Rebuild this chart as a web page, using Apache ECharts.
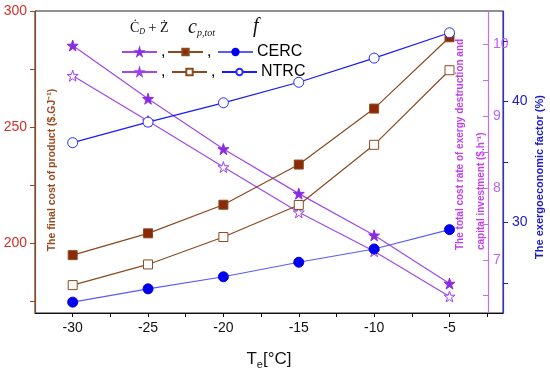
<!DOCTYPE html>
<html>
<head>
<meta charset="utf-8">
<script src="https://cdn.jsdelivr.net/npm/echarts@6/dist/echarts.min.js"></script>
<style>html,body{margin:0;padding:0;background:#fff}#c{width:550px;height:375px}</style>
</head>
<body>
<div id="c"></div>
<script>
// ---- data ----
const te = [-30, -25, -20, -15, -10, -5];
const cdzCERC = [9.98, 9.24, 8.54, 7.92, 7.34, 6.67];
const cdzNTRC = [9.56, 8.93, 8.29, 7.66, 7.12, 6.49];
const cpCERC = [194.9, 204.3, 216.6, 233.9, 258.0, 288.7];
const cpNTRC = [182.0, 190.9, 202.7, 216.5, 242.4, 274.5];
const fCERC = [23.4, 24.5, 25.5, 26.7, 27.8, 29.4];
const fNTRC = [36.6, 38.3, 39.9, 41.6, 43.6, 45.7];
const xLabels = [-30, -25, -20, -15, -10, -5];
const xTicks = [-30, -27.5, -25, -22.5, -20, -17.5, -15, -12.5, -10, -7.5, -5, -2.5];
const leftLabels = [200, 250, 300];
const leftTicks = [175, 200, 225, 250, 275, 300];
const magLabels = [7, 8, 9, 10];
const magTicks = [6.5, 7, 7.5, 8, 8.5, 9, 9.5, 10];
const blueLabels = [30, 40];
const blueTicks = [25, 30, 35, 40, 45];

const pair = arr => te.map((x, i) => [x, arr[i]]);
const STAR = 'path://M50,0 L61,35 L98,35 L68,57 L79,91 L50,70 L21,91 L32,57 L2,35 L39,35 Z';
const PURPLE = '#a048e8', BROWN = '#8b4a1e', BLUE = '#1a1aff';

const chart = echarts.init(document.getElementById('c'), null, {renderer: 'canvas'});

function legend(name, left, top, text) {
  return {
    data: [name], left: left, top: top, padding: 0, itemWidth: 35, itemHeight: 8,
    selectedMode: false,
    formatter: () => text,
    textStyle: {fontFamily: 'Liberation Sans', fontSize: 16, color: '#000', padding: [0, 0, 0, -1]}
  };
}

const option = {
  animation: false,
  backgroundColor: '#fff',
  grid: {left: 35, right: 47, top: 11, bottom: 58, show: true, borderColor: '#222', borderWidth: 1, backgroundColor: 'transparent'},
  xAxis: {
    type: 'value', min: -32.5, max: -1.45,
    axisLine: {lineStyle: {color: '#111', width: 1}},
    axisTick: {show: true, length: 4, inside: false, customValues: xTicks, lineStyle: {color: '#111'}},
    axisLabel: {customValues: xLabels, margin: 8, fontFamily: 'Liberation Sans', fontSize: 14, color: '#111'},
    splitLine: {show: false},
    name: 'T{s|e}[°C]', nameLocation: 'middle', nameGap: 36,
    nameTextStyle: {fontFamily: 'Liberation Sans', fontSize: 17, color: '#111',
      rich: {s: {fontFamily: 'Liberation Sans', fontSize: 11, verticalAlign: 'bottom', padding: [10, 0, 0, 0], color: '#111'}}}
  },
  yAxis: [
    {
      type: 'value', position: 'left', min: 170, max: 300,
      axisLine: {show: true, lineStyle: {color: BROWN, width: 1.2}},
      axisTick: {show: true, length: 5, customValues: leftTicks, lineStyle: {color: BROWN}},
      axisLabel: {customValues: leftLabels, margin: 8, fontFamily: 'Liberation Sans', fontSize: 14, color: '#d0302a'},
      splitLine: {show: false}
    },
    {
      type: 'value', position: 'right', offset: -15, min: 6.26, max: 10.46,
      axisLine: {show: true, onZero: false, lineStyle: {color: '#c070f0', width: 1.2}},
      axisTick: {show: true, inside: true, length: 5, customValues: magTicks, lineStyle: {color: '#c070f0'}},
      axisLabel: {customValues: magLabels, margin: 5, fontFamily: 'Liberation Sans', fontSize: 14, color: '#c060f0'},
      splitLine: {show: false}
    },
    {
      type: 'value', position: 'right', offset: 0, min: 22.5, max: 47.5,
      axisLine: {show: true, onZero: false, lineStyle: {color: '#3030e0', width: 1.2}},
      axisTick: {show: true, length: 5, customValues: blueTicks, lineStyle: {color: '#2020c0'}},
      axisLabel: {customValues: blueLabels, margin: 9, fontFamily: 'Liberation Sans', fontSize: 14, color: '#2020c0'},
      splitLine: {show: false}
    }
  ],
  legend: [
    legend('CERC cdz', 121, 44, ','),
    legend('CERC cp', 167, 44, ','),
    legend('CERC f', 217, 44, 'CERC'),
    legend('NTRC cdz', 121, 64, ','),
    legend('NTRC cp', 171, 64, ','),
    legend('NTRC f', 221, 64, 'NTRC')
  ],
  series: [
    {name: 'CERC cdz', type: 'line', yAxisIndex: 1, data: pair(cdzCERC), symbol: STAR, symbolSize: 11,
      lineStyle: {color: PURPLE, width: 1.2}, itemStyle: {color: '#8a2be2', borderColor: '#8a2be2', borderWidth: 1}},
    {name: 'NTRC cdz', type: 'line', yAxisIndex: 1, data: pair(cdzNTRC), symbol: STAR, symbolSize: 11,
      lineStyle: {color: PURPLE, width: 1.2}, itemStyle: {color: '#fff', borderColor: '#9a40ee', borderWidth: 1}},
    {name: 'CERC cp', type: 'line', yAxisIndex: 0, data: pair(cpCERC), symbol: 'rect', symbolSize: 9,
      lineStyle: {color: BROWN, width: 1.2}, itemStyle: {color: '#8b2a08', borderColor: '#8b4a1e', borderWidth: 1}},
    {name: 'NTRC cp', type: 'line', yAxisIndex: 0, data: pair(cpNTRC), symbol: 'rect', symbolSize: 9,
      lineStyle: {color: BROWN, width: 1.2}, itemStyle: {color: '#fff', borderColor: '#8b4a1e', borderWidth: 1}},
    {name: 'CERC f', type: 'line', yAxisIndex: 2, data: pair(fCERC), symbol: 'circle', symbolSize: 10,
      lineStyle: {color: '#5a5aff', width: 1.2}, itemStyle: {color: '#0000ee', borderColor: '#0000ee', borderWidth: 1}},
    {name: 'NTRC f', type: 'line', yAxisIndex: 2, data: pair(fNTRC), symbol: 'circle', symbolSize: 10,
      lineStyle: {color: BLUE, width: 1.2}, itemStyle: {color: '#fff', borderColor: '#2a2aff', borderWidth: 1}}
  ],
  graphic: [
    {type: 'text', x: 130, y: 28, style: {
      text: '{a|Ċ}{s|D}{a| + Ż}', textVerticalAlign: 'middle',
      rich: {a: {fontFamily: 'Liberation Serif', fontSize: 14, fill: '#111'},
             s: {fontFamily: 'Liberation Serif', fontSize: 8, fill: '#111', fontStyle: 'italic', verticalAlign: 'bottom', padding: [8, 0, 0, 0]}}}},
    {type: 'text', x: 188, y: 28, style: {
      text: '{c|c}{s|p,tot}', textVerticalAlign: 'middle',
      rich: {c: {fontFamily: 'Liberation Serif', fontSize: 20, fontStyle: 'italic', fill: '#111'},
             s: {fontFamily: 'Liberation Serif', fontSize: 10, fontStyle: 'italic', fill: '#111', verticalAlign: 'bottom', padding: [10, 0, 0, 0]}}}},
    {type: 'text', x: 253, y: 27, style: {text: 'f', fontFamily: 'Liberation Serif', fontSize: 20, fontStyle: 'italic', fill: '#111', textVerticalAlign: 'middle'}},
    {type: 'text', x: 52, y: 170, rotation: Math.PI / 2, style: {
      text: 'The final cost of product ($.GJ⁻¹)', fontFamily: 'Liberation Sans', fontSize: 10.5, fontWeight: 'bold',
      fill: '#9b4a20', textAlign: 'center', textVerticalAlign: 'middle'}},
    {type: 'text', x: 460, y: 250, rotation: Math.PI / 2, style: {
      text: 'The total cost rate of exergy destruction and', fontFamily: 'Liberation Sans', fontSize: 10, fontWeight: 'bold',
      fill: '#c040f0', textAlign: 'left', textVerticalAlign: 'middle'}},
    {type: 'text', x: 481, y: 250, rotation: Math.PI / 2, style: {
      text: 'capital investment ($.h⁻¹)', fontFamily: 'Liberation Sans', fontSize: 10, fontWeight: 'bold',
      fill: '#c040f0', textAlign: 'left', textVerticalAlign: 'middle'}},
    {type: 'text', x: 540, y: 177, rotation: Math.PI / 2, style: {
      text: 'The exergoeconomic factor (%)', fontFamily: 'Liberation Sans', fontSize: 11, fontWeight: 'bold',
      fill: '#1a1ac8', textAlign: 'center', textVerticalAlign: 'middle'}}
  ]
};
chart.setOption(option);
</script>
</body>
</html>
